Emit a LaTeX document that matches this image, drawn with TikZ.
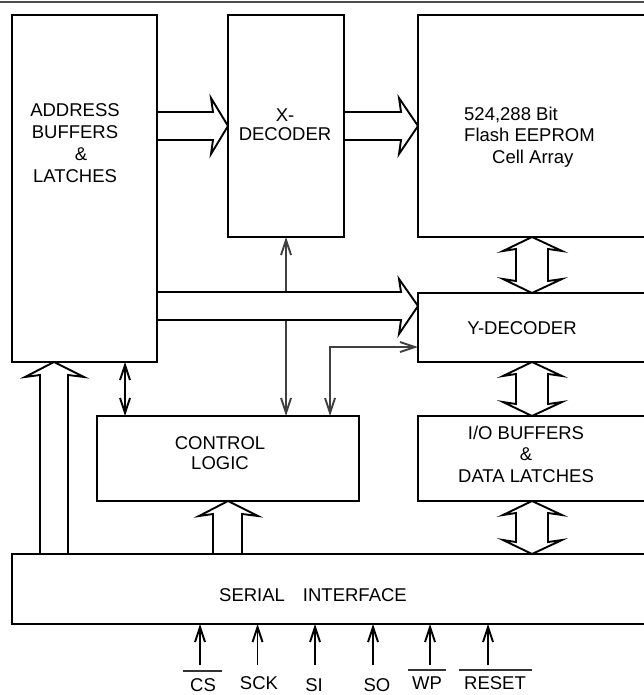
\documentclass[tikz,border=0pt]{standalone}
\usepackage{fontspec}
\setmainfont{Liberation Sans}
\usetikzlibrary{arrows.meta,backgrounds}
\begin{document}
\begin{tikzpicture}[x=1pt,y=-1pt,
  box/.style={draw, line width=2pt, inner sep=0pt, outer sep=0pt},
  lbl/.style={font=\fontsize{18.5}{21.5}\selectfont, align=center, inner sep=0pt},
  wide/.style={draw, fill=white, line width=1.9pt, line join=miter},
  conn/.style={draw=black!75, line width=1.9pt},
  >={Straight Barb[length=15pt,width=10pt]},
  pin/.style={draw=black, line width=1.9pt},
  bar/.style={draw=black!80, line width=1.9pt}]

\useasboundingbox (0,0) rectangle (644,695);
\clip (0,0) rectangle (644,695);

% blocks
\node[box, minimum width=145pt, minimum height=347pt] (addr) at (84.5,188.5) {};
\node[box, minimum width=116pt, minimum height=222pt] (xdec) at (286,126) {};
\node[box, minimum width=242pt, minimum height=222pt] (cell) at (539,126) {};
\node[box, minimum width=242pt, minimum height=69pt] (ydec) at (539,327.5) {};
\node[box, minimum width=242pt, minimum height=85pt] (io) at (539,458.5) {};
\node[box, minimum width=262pt, minimum height=85pt] (ctrl) at (228,458.5) {};
\node[box, minimum width=648pt, minimum height=70pt] (serial) at (336,589) {};

% texts
\node[lbl, font=\fontsize{18.5}{22}\selectfont] (addrt) at (75,143) {ADDRESS\\BUFFERS\\\hspace*{12pt}\&\\LATCHES};
\node[lbl, font=\fontsize{18.5}{19.5}\selectfont] (xdect) at (285,124.5) {X-\\DECODER};
\node[lbl, align=left, anchor=west] (cellt) at (464,137) {524,288 Bit\\Flash EEPROM\\\hspace*{28pt}Cell Array};
\node[lbl] (ydect) at (522,328) {Y-DECODER};
\node[lbl] (iot) at (526,454) {I/O BUFFERS\\\&\\DATA LATCHES};
\node[lbl, font=\fontsize{18.5}{20}\selectfont] (ctrlt) at (220,453) {CONTROL\\LOGIC};
\node[lbl] (serialt) at (313,595) {SERIAL\hspace{18pt}INTERFACE};

% pin labels
\node[lbl] (cs) at (203,685) {CS};
\node[lbl] (sck) at (259,683) {SCK};
\node[lbl] (si) at (314,685) {SI};
\node[lbl] (so) at (377,685) {SO};
\node[lbl] (wp) at (427,683) {WP};
\node[lbl] (reset) at (495,683) {RESET};
\draw[bar] (183,671) -- (222,671);
\draw[bar] (408,670) -- (446,670);
\draw[bar] (459,670) -- (532,670);

% pin inputs
\foreach \n/\x in {pcs/200, psck/257.5, psi/315, pso/373, pwp/430, preset/488}{
  \coordinate (\n) at (\x,665);
  \draw[pin,->] (\n) -- (serial.south -| \n);
}

\begin{pgfonlayer}{background}
  \fill[white] (0,0) rectangle (644,695);
  \draw[line width=2pt, black!70] (0,2.5) -- (644,2.5);
  % thin connectors
  \coordinate (k1) at (125,380);
  \draw[conn, draw=black, <->] (addr.south -| k1) -- (ctrl.north -| k1);
  \draw[conn, <->] (xdec.south) -- (xdec.south |- ctrl.north);
  \coordinate (k2) at (330,347);
  \draw[conn, <->] (ctrl.north -| k2) -- (k2) -- (ydec.west |- k2);
  % wide buses
  \path[wide] (157,112) -- (213,112) -- (211,98) -- (228,126) -- (211,154) -- (213,140) -- (157,140);
  \path[wide] (344,112) -- (401,112) -- (399,98) -- (418,126) -- (399,154) -- (401,140) -- (344,140);
  \path[wide] (157,292) -- (401,292) -- (399,279) -- (418,306) -- (399,334) -- (401,320) -- (157,320);
  \path[wide] (40,554) -- (40,375) -- (25,377) -- (54,362) -- (84,377) -- (68,375) -- (68,554);
  \path[wide] (213,554) -- (213,514) -- (199,516) -- (228,501) -- (258,516) -- (242,514) -- (242,554);
  \path[wide] (532,237) -- (562,251) -- (548,249) -- (548,281) -- (562,279) -- (532,293) -- (503,279) -- (516,281) -- (516,249) -- (503,251) -- cycle;
  \path[wide] (532,362) -- (562,376) -- (548,374) -- (548,404) -- (562,402) -- (532,416) -- (503,402) -- (516,404) -- (516,374) -- (503,376) -- cycle;
  \path[wide] (532,501) -- (562,515) -- (548,513) -- (548,542) -- (562,540) -- (532,554) -- (503,540) -- (516,542) -- (516,513) -- (503,515) -- cycle;
\end{pgfonlayer}
\end{tikzpicture}
\end{document}
